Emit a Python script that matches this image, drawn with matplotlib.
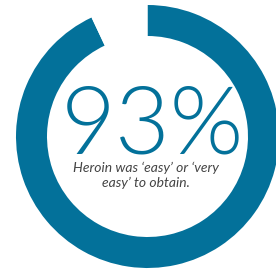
import matplotlib.pyplot as plt

# data
shares = [93, 7]
colors = ['#03719A', 'white']
big_label = '93%'
caption = ['Heroin was \u2018easy\u2019 or \u2018very', 'easy\u2019 to obtain.']

W, H = 276, 271
fig = plt.figure(figsize=(W / 100, H / 100), dpi=100)
ax = fig.add_axes([0, 0, 1, 1])

cx, cy = 147.5, H - 136.5
ax.pie(shares, colors=colors, startangle=90, counterclock=False,
       center=(cx, cy), radius=131.5,
       wedgeprops=dict(width=31, linewidth=0))

ax.set_xlim(0, W)
ax.set_ylim(0, H)
ax.set_aspect('equal')
ax.axis('off')

ax.text(152, H - 154, big_label, ha='center', va='baseline', fontsize=68,
        family='Lato', fontweight=300, color='#03719A')
ax.text(146, H - 162, '\n'.join(caption), ha='center', va='top',
        fontsize=10, linespacing=1.2,
        family='Lato', style='italic', color='#444444')

fig.savefig('out.png', dpi=100)
